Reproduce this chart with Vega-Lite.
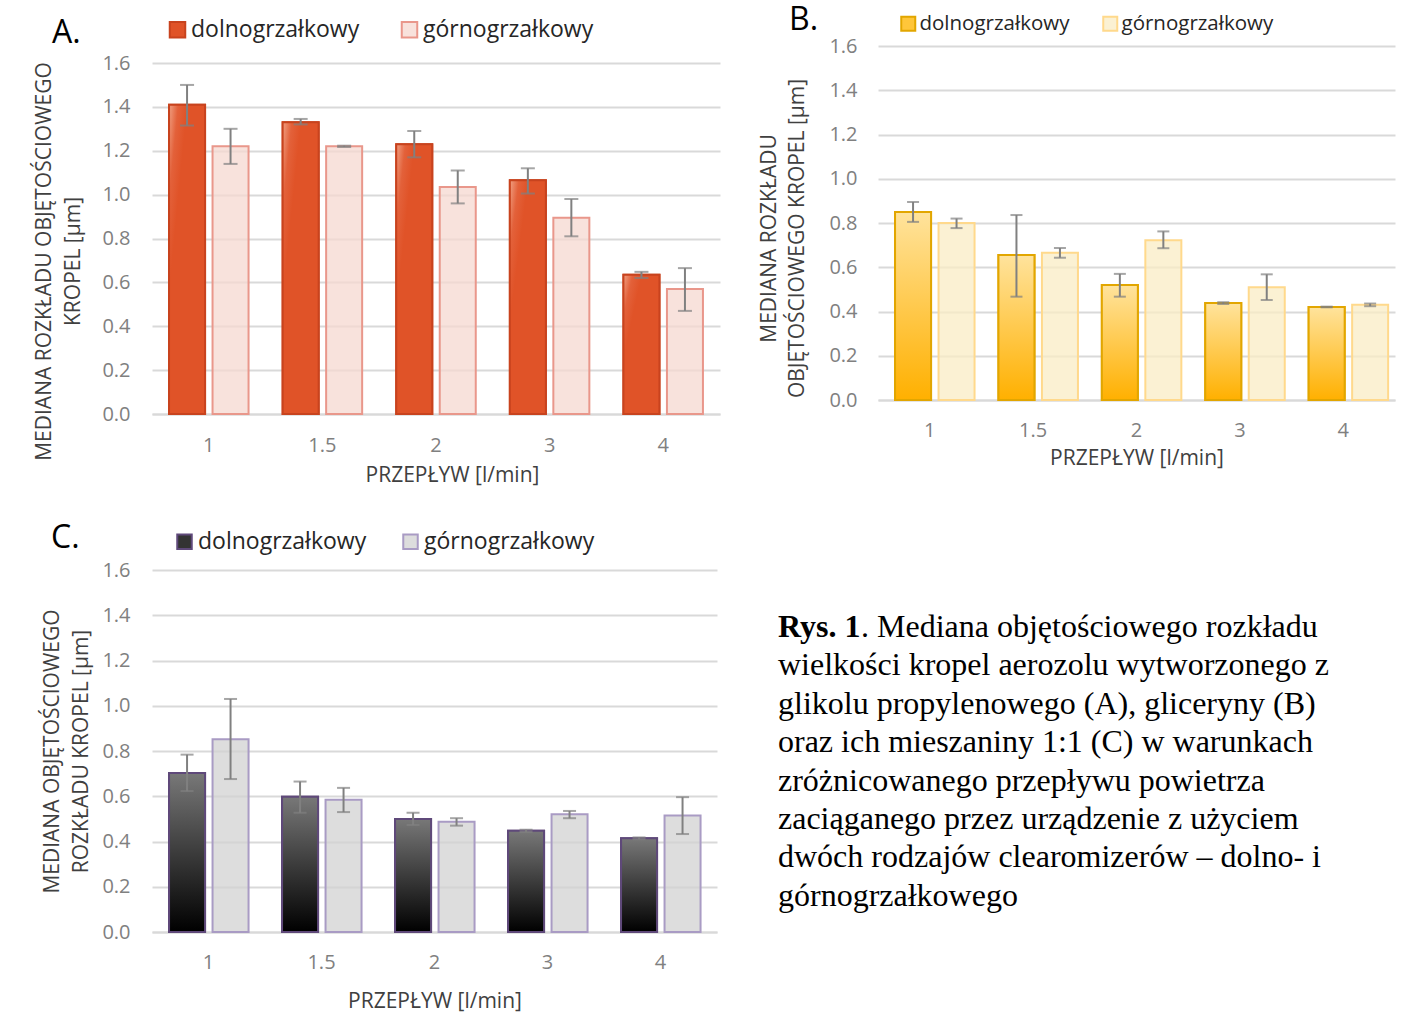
{
  "$schema": "https://vega.github.io/schema/vega-lite/v6.json",
  "padding": {"left": 33, "top": 4, "right": 5, "bottom": 5},
  "config": {
    "font": "Open Sans",
    "view": {"stroke": null},
    "title": {"fontWeight": "normal", "color": "#000000"},
    "axis": {"titleFontWeight": "normal"},
    "legend": {"labelLimit": 400}
  },
  "resolve": {"scale": {"color": "independent", "stroke": "independent"}, "legend": {"color": "independent", "stroke": "independent"}},
  "datasets": {
    "bars": [
      {"p": "A", "f": "1", "s": "dolnogrzałkowy", "v": 1.41, "lo": 1.315, "hi": 1.50},
      {"p": "A", "f": "1", "s": "górnogrzałkowy", "v": 1.22, "lo": 1.14, "hi": 1.30},
      {"p": "A", "f": "1.5", "s": "dolnogrzałkowy", "v": 1.33, "lo": 1.32, "hi": 1.345},
      {"p": "A", "f": "1.5", "s": "górnogrzałkowy", "v": 1.22, "lo": 1.217, "hi": 1.223},
      {"p": "A", "f": "2", "s": "dolnogrzałkowy", "v": 1.23, "lo": 1.17, "hi": 1.29},
      {"p": "A", "f": "2", "s": "górnogrzałkowy", "v": 1.035, "lo": 0.96, "hi": 1.11},
      {"p": "A", "f": "3", "s": "dolnogrzałkowy", "v": 1.065, "lo": 1.005, "hi": 1.12},
      {"p": "A", "f": "3", "s": "górnogrzałkowy", "v": 0.895, "lo": 0.81, "hi": 0.98},
      {"p": "A", "f": "4", "s": "dolnogrzałkowy", "v": 0.635, "lo": 0.62, "hi": 0.648},
      {"p": "A", "f": "4", "s": "górnogrzałkowy", "v": 0.57, "lo": 0.47, "hi": 0.665},
      {"p": "B", "f": "1", "s": "dolnogrzałkowy", "v": 0.85, "lo": 0.805, "hi": 0.895},
      {"p": "B", "f": "1", "s": "górnogrzałkowy", "v": 0.80, "lo": 0.777, "hi": 0.82},
      {"p": "B", "f": "1.5", "s": "dolnogrzałkowy", "v": 0.655, "lo": 0.467, "hi": 0.836},
      {"p": "B", "f": "1.5", "s": "górnogrzałkowy", "v": 0.665, "lo": 0.643, "hi": 0.687},
      {"p": "B", "f": "2", "s": "dolnogrzałkowy", "v": 0.52, "lo": 0.467, "hi": 0.57},
      {"p": "B", "f": "2", "s": "górnogrzałkowy", "v": 0.722, "lo": 0.686, "hi": 0.762},
      {"p": "B", "f": "3", "s": "dolnogrzałkowy", "v": 0.438, "lo": 0.434, "hi": 0.442},
      {"p": "B", "f": "3", "s": "górnogrzałkowy", "v": 0.51, "lo": 0.452, "hi": 0.568},
      {"p": "B", "f": "4", "s": "dolnogrzałkowy", "v": 0.42, "lo": 0.419, "hi": 0.422},
      {"p": "B", "f": "4", "s": "górnogrzałkowy", "v": 0.43, "lo": 0.424, "hi": 0.436},
      {"p": "C", "f": "1", "s": "dolnogrzałkowy", "v": 0.703, "lo": 0.623, "hi": 0.784},
      {"p": "C", "f": "1", "s": "górnogrzałkowy", "v": 0.852, "lo": 0.676, "hi": 1.03},
      {"p": "C", "f": "1.5", "s": "dolnogrzałkowy", "v": 0.598, "lo": 0.527, "hi": 0.665},
      {"p": "C", "f": "1.5", "s": "górnogrzałkowy", "v": 0.585, "lo": 0.53, "hi": 0.637},
      {"p": "C", "f": "2", "s": "dolnogrzałkowy", "v": 0.50, "lo": 0.473, "hi": 0.527},
      {"p": "C", "f": "2", "s": "górnogrzałkowy", "v": 0.487, "lo": 0.47, "hi": 0.503},
      {"p": "C", "f": "3", "s": "dolnogrzałkowy", "v": 0.447, "lo": 0.442, "hi": 0.452},
      {"p": "C", "f": "3", "s": "górnogrzałkowy", "v": 0.52, "lo": 0.503, "hi": 0.535},
      {"p": "C", "f": "4", "s": "dolnogrzałkowy", "v": 0.414, "lo": 0.41, "hi": 0.418},
      {"p": "C", "f": "4", "s": "górnogrzałkowy", "v": 0.515, "lo": 0.433, "hi": 0.596}
    ],
    "caption": [
      {"line": 1, "part": "b", "text": "Rys. 1"},
      {"line": 1, "part": "f", "text": ". Mediana objętościowego rozkładu"},
      {"line": 2, "part": "r", "text": "wielkości kropel aerozolu wytworzonego z"},
      {"line": 3, "part": "r", "text": "glikolu propylenowego (A), gliceryny (B)"},
      {"line": 4, "part": "r", "text": "oraz ich mieszaniny 1:1 (C) w warunkach"},
      {"line": 5, "part": "r", "text": "zróżnicowanego przepływu powietrza"},
      {"line": 6, "part": "r", "text": "zaciąganego przez urządzenie z użyciem"},
      {"line": 7, "part": "r", "text": "dwóch rodzajów clearomizerów – dolno- i"},
      {"line": 8, "part": "r", "text": "górnogrzałkowego"}
    ]
  },
  "vconcat": [
    {
      "resolve": {"scale": {"color": "independent", "stroke": "independent"}, "legend": {"color": "independent", "stroke": "independent"}},
      "hconcat": [
        {
          "width": 568, "height": 368,
          "data": {"name": "bars"},
          "transform": [{"filter": "datum.p === 'A'"}],
          "title": {"text": "A.", "anchor": "start", "frame": "group", "baseline": "alphabetic", "offset": 0, "dx": -100, "dy": 57, "fontSize": 32},
          "encoding": {
            "x": {"field": "f", "type": "ordinal", "sort": ["1", "1.5", "2", "3", "4"], "scale": {"paddingInner": 0, "paddingOuter": 0},
              "axis": {"labelAngle": 0, "domain": true, "domainColor": "#d9d9d9", "domainWidth": 2, "ticks": false, "labelColor": "#808080", "labelFontSize": 20, "labelPadding": 21, "title": "PRZEPŁYW [l/min]", "titleColor": "#404040", "titleFontSize": 21, "titlePadding": 9, "titleX": 300}},
            "xOffset": {"field": "s", "type": "nominal", "sort": ["dolnogrzałkowy", "górnogrzałkowy"], "scale": {"paddingInner": 0.172, "paddingOuter": 0.392}}
          },
          "layer": [
            {
              "mark": {"type": "bar", "strokeWidth": 2},
              "encoding": {
                "y": {"field": "v", "type": "quantitative", "scale": {"domain": [0, 1.6775], "nice": false},
                  "axis": {"values": [0, 0.2, 0.4, 0.6, 0.8, 1, 1.2, 1.4, 1.6], "format": ".1f", "grid": true, "gridColor": "#d9d9d9", "gridWidth": 2, "domain": false, "ticks": false, "labelColor": "#808080", "labelFontSize": 20, "labelPadding": 22, "title": ["MEDIANA ROZKŁADU OBJĘTOŚCIOWEGO", "KROPEL [μm]"], "titleColor": "#404040", "titleFontSize": 21, "titlePadding": 18, "titleLineHeight": 29, "titleY": 215}},
                "color": {"field": "s", "type": "nominal", "scale": {"domain": ["dolnogrzałkowy", "górnogrzałkowy"], "range": ["#E05328", "rgba(246,216,208,0.75)"]},
                  "legend": {"orient": "none", "legendX": 14, "legendY": -28, "direction": "horizontal", "title": null, "symbolType": "square", "symbolSize": 240, "symbolStrokeWidth": 2, "labelFontSize": 23, "labelColor": "#262626", "labelOffset": 2, "columnPadding": 37}},
                "stroke": {"field": "s", "type": "nominal", "scale": {"domain": ["dolnogrzałkowy", "górnogrzałkowy"], "range": ["#C8431E", "#E9978B"]},
                  "legend": {"orient": "none", "legendX": 14, "legendY": -28, "direction": "horizontal", "title": null, "symbolType": "square", "symbolSize": 240, "symbolStrokeWidth": 2, "labelFontSize": 23, "labelColor": "#262626", "labelOffset": 2, "columnPadding": 37}}
              }
            },
            {
              "transform": [{"filter": "datum.s === 'dolnogrzałkowy'"}],
              "mark": {"type": "bar", "stroke": "#C8431E", "strokeWidth": 2,
                "fill": {"gradient": "linear", "x1": 0, "y1": 0, "x2": 0.3, "y2": 0.25, "stops": [{"offset": 0, "color": "#F0A083"}, {"offset": 0.5, "color": "#E3613A"}, {"offset": 1, "color": "#E05328"}]}},
              "encoding": {"y": {"field": "v", "type": "quantitative"}}
            },
            {
              "mark": {"type": "rule", "color": "#808080", "strokeWidth": 2},
              "encoding": {"y": {"field": "lo", "type": "quantitative"}, "y2": {"field": "hi"}}
            },
            {
              "mark": {"type": "tick", "color": "#808080", "thickness": 2, "size": 14},
              "encoding": {"y": {"field": "lo", "type": "quantitative"}}
            },
            {
              "mark": {"type": "tick", "color": "#808080", "thickness": 2, "size": 14},
              "encoding": {"y": {"field": "hi", "type": "quantitative"}}
            }
          ]
        },
        {
          "width": 517, "height": 354,
          "data": {"name": "bars"},
          "transform": [{"filter": "datum.p === 'B'"}],
          "title": {"text": "B.", "anchor": "start", "frame": "group", "baseline": "alphabetic", "offset": 0, "dx": -89, "dy": 49, "fontSize": 32},
          "encoding": {
            "x": {"field": "f", "type": "ordinal", "sort": ["1", "1.5", "2", "3", "4"], "scale": {"paddingInner": 0, "paddingOuter": 0},
              "axis": {"labelAngle": 0, "domain": true, "domainColor": "#d9d9d9", "domainWidth": 2, "ticks": false, "labelColor": "#808080", "labelFontSize": 20, "labelPadding": 20, "title": "PRZEPŁYW [l/min]", "titleColor": "#404040", "titleFontSize": 21, "titlePadding": 7}},
            "xOffset": {"field": "s", "type": "nominal", "sort": ["dolnogrzałkowy", "górnogrzałkowy"], "scale": {"paddingInner": 0.165, "paddingOuter": 0.39}}
          },
          "layer": [
            {
              "mark": {"type": "bar", "strokeWidth": 2},
              "encoding": {
                "y": {"field": "v", "type": "quantitative", "scale": {"domain": [0, 1.6], "nice": false},
                  "axis": {"values": [0, 0.2, 0.4, 0.6, 0.8, 1, 1.2, 1.4, 1.6], "format": ".1f", "grid": true, "gridColor": "#d9d9d9", "gridWidth": 2, "domain": false, "ticks": false, "labelColor": "#808080", "labelFontSize": 20, "labelPadding": 21, "title": ["MEDIANA ROZKŁADU", "OBJĘTOŚCIOWEGO KROPEL  [μm]"], "titleColor": "#404040", "titleFontSize": 21, "titlePadding": 21, "titleLineHeight": 28, "titleY": 192}},
                "color": {"field": "s", "type": "nominal", "scale": {"domain": ["dolnogrzałkowy", "górnogrzałkowy"], "range": ["#FFC63A", "rgba(250,236,196,0.75)"]},
                  "legend": {"orient": "none", "legendX": 20, "legendY": -33, "direction": "horizontal", "title": null, "symbolType": "square", "symbolSize": 196, "symbolStrokeWidth": 2, "labelFontSize": 20.5, "labelColor": "#262626", "labelOffset": 1, "columnPadding": 29}},
                "stroke": {"field": "s", "type": "nominal", "scale": {"domain": ["dolnogrzałkowy", "górnogrzałkowy"], "range": ["#E2A600", "#FFD98C"]},
                  "legend": {"orient": "none", "legendX": 20, "legendY": -33, "direction": "horizontal", "title": null, "symbolType": "square", "symbolSize": 196, "symbolStrokeWidth": 2, "labelFontSize": 20.5, "labelColor": "#262626", "labelOffset": 1, "columnPadding": 29}}
              }
            },
            {
              "transform": [{"filter": "datum.s === 'dolnogrzałkowy'"}],
              "mark": {"type": "bar", "stroke": "#E2A600", "strokeWidth": 2,
                "fill": {"gradient": "linear", "x1": 0, "y1": 0, "x2": 0, "y2": 1, "stops": [{"offset": 0, "color": "#FFE39C"}, {"offset": 1, "color": "#FFB000"}]}},
              "encoding": {"y": {"field": "v", "type": "quantitative"}}
            },
            {
              "mark": {"type": "rule", "color": "#808080", "strokeWidth": 2},
              "encoding": {"y": {"field": "lo", "type": "quantitative"}, "y2": {"field": "hi"}}
            },
            {
              "mark": {"type": "tick", "color": "#808080", "thickness": 2, "size": 12},
              "encoding": {"y": {"field": "lo", "type": "quantitative"}}
            },
            {
              "mark": {"type": "tick", "color": "#808080", "thickness": 2, "size": 12},
              "encoding": {"y": {"field": "hi", "type": "quantitative"}}
            }
          ]
        }
      ],
      "bounds": "flush",
      "spacing": 158
    },
    {
      "resolve": {"scale": {"color": "independent", "stroke": "independent"}, "legend": {"color": "independent", "stroke": "independent"}},
      "hconcat": [
        {
          "width": 565, "height": 362,
          "data": {"name": "bars"},
          "transform": [{"filter": "datum.p === 'C'"}],
          "title": {"text": "C.", "anchor": "start", "frame": "group", "baseline": "alphabetic", "offset": 0, "dx": -101, "dy": 50, "fontSize": 32},
          "encoding": {
            "x": {"field": "f", "type": "ordinal", "sort": ["1", "1.5", "2", "3", "4"], "scale": {"paddingInner": 0, "paddingOuter": 0},
              "axis": {"labelAngle": 0, "domain": true, "domainColor": "#d9d9d9", "domainWidth": 2, "ticks": false, "labelColor": "#808080", "labelFontSize": 20, "labelPadding": 20, "title": "PRZEPŁYW [l/min]", "titleColor": "#404040", "titleFontSize": 21, "titlePadding": 18}},
            "xOffset": {"field": "s", "type": "nominal", "sort": ["dolnogrzałkowy", "górnogrzałkowy"], "scale": {"paddingInner": 0.186, "paddingOuter": 0.407}}
          },
          "layer": [
            {
              "mark": {"type": "bar", "strokeWidth": 2},
              "encoding": {
                "y": {"field": "v", "type": "quantitative", "scale": {"domain": [0, 1.6], "nice": false},
                  "axis": {"values": [0, 0.2, 0.4, 0.6, 0.8, 1, 1.2, 1.4, 1.6], "format": ".1f", "grid": true, "gridColor": "#d9d9d9", "gridWidth": 2, "domain": false, "ticks": false, "labelColor": "#808080", "labelFontSize": 20, "labelPadding": 22, "title": ["MEDIANA OBJĘTOŚCIOWEGO", "ROZKŁADU KROPEL  [μm]"], "titleColor": "#404040", "titleFontSize": 21, "titlePadding": 10, "titleLineHeight": 29}},
                "color": {"field": "s", "type": "nominal", "scale": {"domain": ["dolnogrzałkowy", "górnogrzałkowy"], "range": ["#333333", "rgba(210,210,210,0.75)"]},
                  "legend": {"orient": "none", "legendX": 21, "legendY": -40, "direction": "horizontal", "title": null, "symbolType": "square", "symbolSize": 210, "symbolStrokeWidth": 2, "labelFontSize": 23, "labelColor": "#262626", "labelOffset": 2, "columnPadding": 32}},
                "stroke": {"field": "s", "type": "nominal", "scale": {"domain": ["dolnogrzałkowy", "górnogrzałkowy"], "range": ["#5F497A", "#A99BC4"]},
                  "legend": {"orient": "none", "legendX": 21, "legendY": -40, "direction": "horizontal", "title": null, "symbolType": "square", "symbolSize": 210, "symbolStrokeWidth": 2, "labelFontSize": 23, "labelColor": "#262626", "labelOffset": 2, "columnPadding": 32}}
              }
            },
            {
              "transform": [{"filter": "datum.s === 'dolnogrzałkowy'"}],
              "mark": {"type": "bar", "stroke": "#5F497A", "strokeWidth": 2,
                "fill": {"gradient": "linear", "x1": 0, "y1": 0, "x2": 0, "y2": 1, "stops": [{"offset": 0, "color": "#787878"}, {"offset": 1, "color": "#000000"}]}},
              "encoding": {"y": {"field": "v", "type": "quantitative"}}
            },
            {
              "mark": {"type": "rule", "color": "#808080", "strokeWidth": 2},
              "encoding": {"y": {"field": "lo", "type": "quantitative"}, "y2": {"field": "hi"}}
            },
            {
              "mark": {"type": "tick", "color": "#808080", "thickness": 2, "size": 13},
              "encoding": {"y": {"field": "lo", "type": "quantitative"}}
            },
            {
              "mark": {"type": "tick", "color": "#808080", "thickness": 2, "size": 13},
              "encoding": {"y": {"field": "hi", "type": "quantitative"}}
            }
          ]
        },
        {
          "width": 620, "height": 403,
          "data": {"name": "caption"},
          "encoding": {
            "y": {"field": "line", "type": "quantitative", "axis": null, "scale": {"domain": [-0.745, 9.75], "reverse": true, "nice": false, "zero": false}},
            "text": {"field": "text"}
          },
          "layer": [
            {"transform": [{"filter": "datum.part === 'b'"}], "mark": {"type": "text", "x": 0, "align": "left", "baseline": "alphabetic", "font": "Liberation Serif", "fontSize": 32, "fontWeight": "bold", "color": "#000000"}},
            {"transform": [{"filter": "datum.part === 'f'"}], "mark": {"type": "text", "x": 0, "dx": 83, "align": "left", "baseline": "alphabetic", "font": "Liberation Serif", "fontSize": 32, "color": "#000000"}},
            {"transform": [{"filter": "datum.part === 'r'"}], "mark": {"type": "text", "x": 0, "align": "left", "baseline": "alphabetic", "font": "Liberation Serif", "fontSize": 32, "color": "#000000"}}
          ]
        }
      ],
      "bounds": "flush",
      "spacing": 61
    }
  ],
  "spacing": 37
}
